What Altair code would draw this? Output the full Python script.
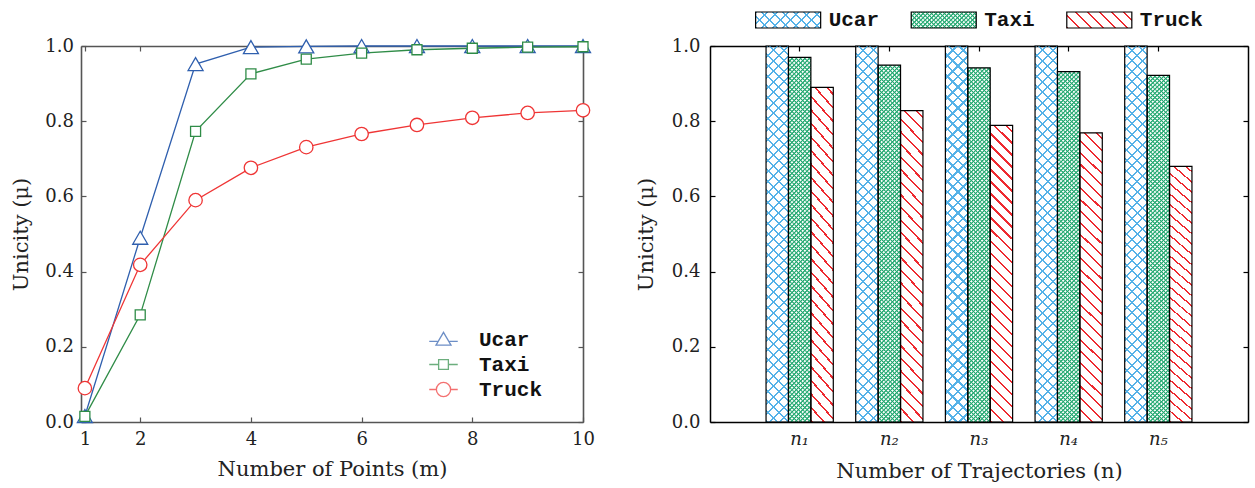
import altair as alt
import pandas as pd

# ---------------- data ----------------
series = ["Ucar", "Taxi", "Truck"]

m_values = [1, 2, 3, 4, 5, 6, 7, 8, 9, 10]
ucar_m = [0.016, 0.49, 0.952, 0.997, 0.999, 1.0, 1.0, 1.0, 1.0, 1.0]
taxi_m = [0.015, 0.285, 0.773, 0.926, 0.965, 0.981, 0.990, 0.994, 0.997, 0.998]
truck_m = [0.09, 0.418, 0.59, 0.676, 0.731, 0.766, 0.79, 0.809, 0.822, 0.829]

traj_labels = ["n₁", "n₂", "n₃", "n₄", "n₅"]
ucar_n = [1.0, 1.0, 1.0, 1.0, 1.0]
taxi_n = [0.970, 0.949, 0.942, 0.932, 0.922]
truck_n = [0.890, 0.828, 0.789, 0.769, 0.680]

x_ticks_m = [1, 2, 4, 6, 8, 10]
y_ticks = [0.0, 0.2, 0.4, 0.6, 0.8, 1.0]

line_colors = ["#2f5fae", "#2f8c47", "#ef3535"]
bar_colors = ["#55b2e8", "#22a870", "#ee2a30"]

SERIF = "DejaVu Serif"
MONO = "Liberation Mono"
GRAY = "#555555"
NEG = alt.ExprRef(expr="-5")

df_m = pd.DataFrame({
    "m": m_values * 3,
    "series": [s for s in series for _ in m_values],
    "value": ucar_m + taxi_m + truck_m,
})
df_n = pd.DataFrame({
    "traj": traj_labels * 3,
    "series": [s for s in series for _ in traj_labels],
    "value": ucar_n + taxi_n + truck_n,
})
leg_df = pd.DataFrame({"series": series})


# ---------------- helpers ----------------
def hatch(W, H, period, thick, color, kind, soft=False):
    """Striped linear gradient imitating a hatch pattern on a WxH box."""
    c = (W + H) / (W * W + H * H)
    if kind == "back":  # "\" lines
        x1, y1, x2, y2 = 0, 1, W * c, 1 - H * c
    else:  # "/" lines
        x1, y1, x2, y2 = 0, 0, W * c, H * c
    n = (W + H) / period
    f = thick * 1.4142 / period
    clear = "rgba(255,255,255,0)"
    stops = []
    k = 0

    def st(o, col):
        stops.append(alt.GradientStop(offset=round(min(o / n, 1), 5), color=col))

    while k < n:
        if soft:
            st(k, color)
            st(k + f * 0.5, color)
            st(k + f * 0.5 + 0.3, clear)
            st(k + 0.7, clear)
            st(k + 1, color)
        else:
            st(k, color)
            st(k + f, color)
            st(k + f, clear)
            st(k + 1, clear)
        k += 1
    return alt.LinearGradient(gradient="linear", x1=x1, y1=y1, x2=x2, y2=y2, stops=stops)


def axis(orient, color, title=None, labels=True, values=None, fmt=None,
         label_pad=13, title_pad=8, italic=False, width=1.6):
    kw = dict(orient=orient, domainColor=color, domainWidth=width, tickColor=color,
              tickWidth=1.2, tickSize=NEG, grid=False, labels=labels, labelFont=SERIF,
              labelFontSize=18, labelColor="#222222", labelPadding=label_pad,
              labelFlush=False, labelOverlap=False, labelAngle=0, titleFont=SERIF,
              titleFontSize=21, titleFontWeight="normal", titleColor="#222222",
              titlePadding=title_pad, title=title)
    if values is not None:
        kw["values"] = values
    if fmt:
        kw["format"] = fmt
    if italic:
        kw["labelFontStyle"] = "italic"
    return alt.Axis(**kw)


# ---------------- left panel ----------------
xs = alt.Scale(domain=[0.93, 10], nice=False, zero=False)
ys = alt.Scale(domain=[0, 1], nice=False)

tri_path = "M-1.9,0.25H-0.8M0.8,0.25H1.9M0,-0.95L1,0.75L-1,0.75Z"
sq_path = "M-1.9,0H-0.65M0.65,0H1.9M-0.65,-0.65H0.65V0.65H-0.65Z"
circ_path = "M-1.9,0H-0.95M0.95,0H1.9M0.95,0A0.95,0.95 0 1 1 -0.95,0A0.95,0.95 0 1 1 0.95,0Z"


def line_layer(name, color, main):
    if main:
        xa = axis("bottom", GRAY, title="Number of Points (m)", values=x_ticks_m, fmt="d",
                  title_pad=10)
        ya = axis("left", GRAY, title="Unicity (μ)", values=y_ticks, fmt=".1f",
                  label_pad=12.5, title_pad=13)
    else:
        xa = None
        ya = None
    return alt.Chart(df_m).transform_filter(alt.datum.series == name).mark_line(
        strokeWidth=1.3, color=color
    ).encode(
        x=alt.X("m:Q", scale=xs, axis=xa),
        y=alt.Y("value:Q", scale=ys, axis=ya),
    )


def pts(name, shape, size, color, mirror):
    if mirror:
        xa = axis("top", GRAY, labels=False, values=x_ticks_m)
        ya = axis("right", GRAY, labels=False, values=y_ticks)
    else:
        xa = None
        ya = None
    return alt.Chart(df_m).transform_filter(alt.datum.series == name).mark_point(
        shape=shape, filled=True, fill="white", stroke=color, strokeWidth=1.3,
        size=size, opacity=1,
    ).encode(
        x=alt.X("m:Q", scale=xs, axis=xa),
        y=alt.Y("value:Q", scale=ys, axis=ya),
    )


legend_left = alt.Legend(
    title=None, orient="none", legendX=352, legendY=317, padding=0,
    labelFont=MONO, labelFontSize=21, labelFontWeight="bold", labelColor="#111111",
    symbolSize=225, symbolStrokeWidth=1.3, symbolFillColor="white",
    labelOffset=25, rowPadding=3,
)

legend_src = alt.Chart(df_m).transform_filter("false").mark_point(
    filled=False, strokeWidth=1.3, size=225,
).encode(
    x=alt.X("m:Q", scale=xs, axis=None),
    y=alt.Y("value:Q", scale=ys, axis=None),
    color=alt.Color("series:N", scale=alt.Scale(domain=series, range=line_colors),
                    legend=legend_left),
    shape=alt.Shape("series:N", scale=alt.Scale(domain=series,
                                                range=[tri_path, sq_path, circ_path]),
                    legend=legend_left),
)

left = alt.layer(
    line_layer("Ucar", line_colors[0], True),
    line_layer("Taxi", line_colors[1], False),
    line_layer("Truck", line_colors[2], False),
    pts("Ucar", "triangle-up", 225, line_colors[0], True),
    pts("Taxi", "square", 100, line_colors[1], False),
    pts("Truck", "circle", 180, line_colors[2], False),
    legend_src,
).resolve_axis(x="independent", y="independent").properties(width=502, height=376)

spacer = alt.Chart(leg_df).mark_rect(opacity=0).encode(
    x=alt.X("series:N", axis=None)
).properties(width=502, height=16)

left_col = alt.vconcat(spacer, left, spacing=18, bounds="flush")

# ---------------- right panel ----------------
xb = alt.Scale(domain=traj_labels, paddingInner=0.25, paddingOuter=0.625)
xo = alt.Scale(domain=series, paddingInner=0, paddingOuter=0)
yb = alt.Scale(domain=[0, 1], nice=False)

BW = 538 / 6 * 0.75 / 3
H_ucar, H_taxi, H_truck = 376, 355, 297

fills = {
    "Ucar": [hatch(BW, H_ucar, 10.5, 1.6, bar_colors[0], "back"),
             hatch(BW, H_ucar, 10.5, 1.6, bar_colors[0], "fwd")],
    "Taxi": [hatch(BW, H_taxi, 4.3, 1.2, bar_colors[1], "back", soft=True),
             hatch(BW, H_taxi, 4.3, 1.2, bar_colors[1], "fwd", soft=True)],
    "Truck": [hatch(BW, H_truck, 12, 1.5, bar_colors[2], "back")],
}
leg_fills = {
    "Ucar": [hatch(65, 16, 10.5, 1.6, bar_colors[0], "back"),
             hatch(65, 16, 10.5, 1.6, bar_colors[0], "fwd")],
    "Taxi": [hatch(65, 16, 4.3, 1.2, bar_colors[1], "back", soft=True),
             hatch(65, 16, 4.3, 1.2, bar_colors[1], "fwd", soft=True)],
    "Truck": [hatch(65, 16, 12, 1.5, bar_colors[2], "back")],
}


def bar_enc(chart, main=False, mirror=False):
    if main:
        xa = axis("bottom", "black", title="Number of Trajectories (n)", italic=True,
                  width=1.5, title_pad=12)
        ya = axis("left", "black", title="Unicity (μ)", values=y_ticks, fmt=".1f",
                  label_pad=15, title_pad=15, width=1.5)
    elif mirror:
        xa = axis("top", "black", labels=False, width=1.5)
        ya = axis("right", "black", labels=False, values=y_ticks, width=1.5)
    else:
        xa = None
        ya = None
    return chart.encode(
        x=alt.X("traj:N", scale=xb, sort=traj_labels, axis=xa),
        xOffset=alt.XOffset("series:N", scale=xo, sort=series),
        y=alt.Y("value:Q", scale=yb, axis=ya),
    )


bar_layers = []
first = True
for s in series:
    for g in fills[s]:
        c = alt.Chart(df_n).transform_filter(alt.datum.series == s).mark_bar(fill=g, strokeWidth=0)
        bar_layers.append(bar_enc(c, main=first))
        first = False
outline = alt.Chart(df_n).mark_bar(fill="transparent", stroke="black", strokeWidth=1.2)
bar_layers.append(bar_enc(outline, mirror=True))

bars = alt.layer(*bar_layers).resolve_axis(x="independent", y="independent").properties(
    width=538, height=376)

# custom legend for the hatched bars
lx = alt.Scale(domain=series, paddingInner=0.582, paddingOuter=0.52, align=0.282)
leg_layers = []
for s in series:
    for g in leg_fills[s]:
        leg_layers.append(
            alt.Chart(leg_df).transform_filter(alt.datum.series == s).mark_rect(fill=g)
            .encode(x=alt.X("series:N", scale=lx, sort=series, axis=None)))
leg_layers.append(
    alt.Chart(leg_df).mark_rect(fill="transparent", stroke="black", strokeWidth=1.2)
    .encode(x=alt.X("series:N", scale=lx, sort=series, axis=None)))
leg_layers.append(
    alt.Chart(leg_df).mark_text(align="left", dx=40.5, font=MONO, fontSize=21,
                                fontWeight="bold", color="#111111")
    .encode(x=alt.X("series:N", scale=lx, sort=series, axis=None), text="series:N"))
legend_chart = alt.layer(*leg_layers).properties(width=538, height=16)

right = alt.vconcat(legend_chart, bars, spacing=18, bounds="flush")

chart = alt.hconcat(left_col, right, spacing=39).properties(
    padding={"left": 10, "top": 8, "right": 5, "bottom": 5}
).configure_view(stroke="transparent")

chart.save("out.html", embed_options={"renderer": "svg", "actions": False})
